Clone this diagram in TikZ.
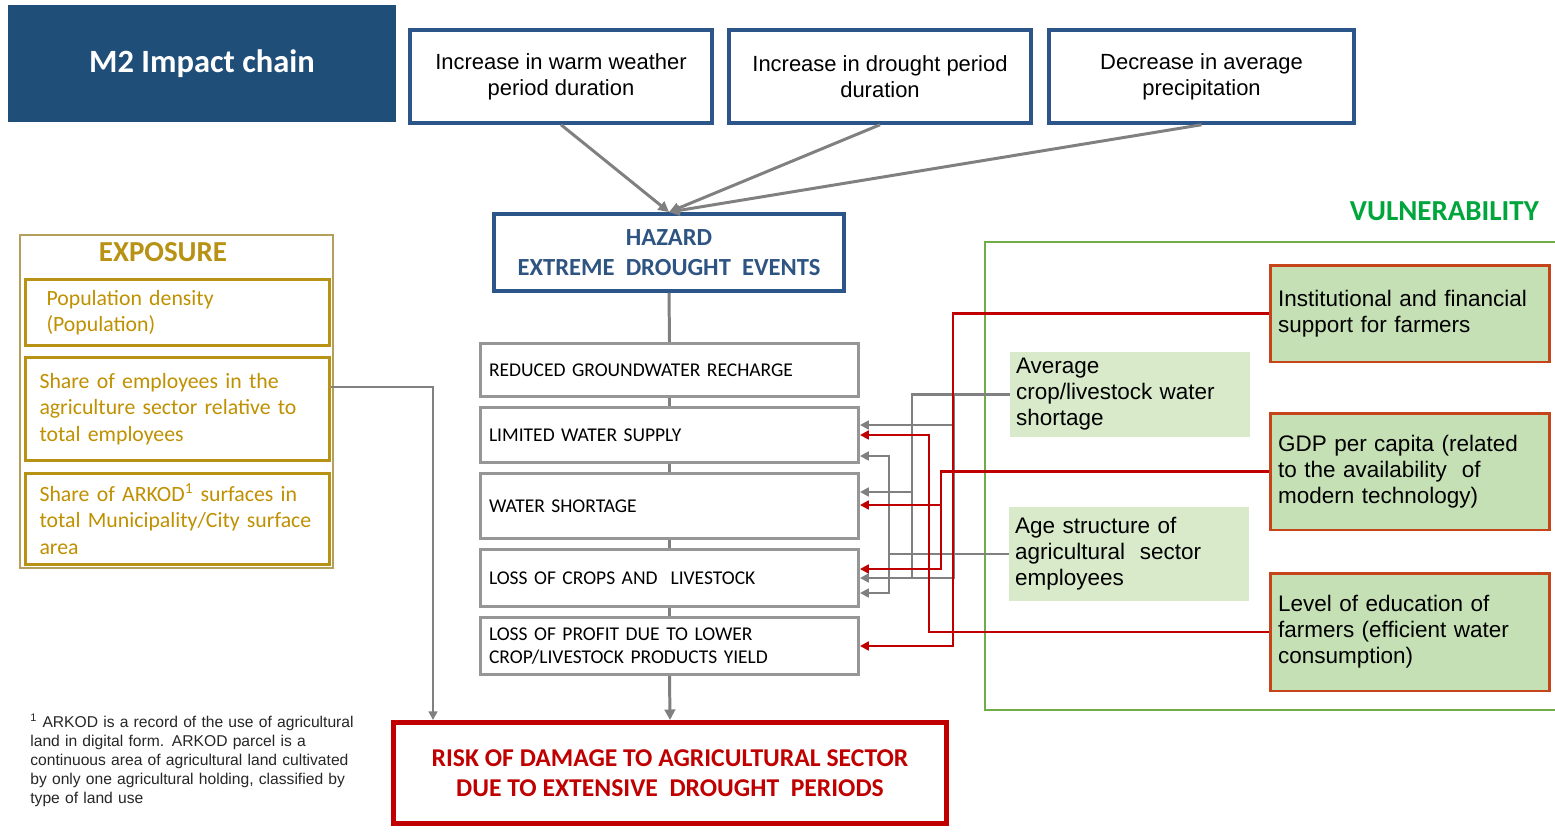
\documentclass[tikz,border=0pt]{standalone}
\usepackage{fontspec}
\setmainfont{Liberation Sans}
\newfontfamily\calibri{Carlito}
\usetikzlibrary{arrows.meta}

\definecolor{titleblue}{RGB}{31,78,121}
\definecolor{boxblue}{RGB}{44,86,138}
\definecolor{hazblue}{RGB}{46,84,130}
\definecolor{linegray}{RGB}{128,128,128}
\definecolor{boxgray}{RGB}{150,150,150}
\definecolor{riskred}{RGB}{192,0,0}
\definecolor{linkred}{RGB}{192,0,0}
\definecolor{gold}{RGB}{184,146,20}
\definecolor{goldtext}{RGB}{191,144,0}
\definecolor{goldframe}{RGB}{180,160,90}
\definecolor{vulngreen}{RGB}{0,166,60}
\definecolor{framegreen}{RGB}{112,173,71}
\definecolor{palegreen}{RGB}{217,234,203}
\definecolor{midgreen}{RGB}{197,224,180}
\definecolor{brick}{RGB}{197,68,26}

\begin{document}
\begin{tikzpicture}[x=0.02cm, y=-0.02cm,
    topbox/.style={draw=boxblue, line width=2pt, minimum width=6.04cm, minimum height=1.86cm,
        align=center, font=\fontsize{12.5}{14.8}\selectfont},
    stepbox/.style={draw=boxgray, line width=1.7pt, minimum width=7.56cm, text width=7.22cm,
        inner xsep=0.17cm, align=left, font=\calibri\fontsize{11.1}{13}\selectfont},
    expbox/.style={draw=gold, line width=1.7pt, minimum width=6.08cm, text width=5.52cm,
        inner xsep=0.28cm, align=left, text=goldtext, font=\calibri\fontsize{12.4}{15}\selectfont},
    factor/.style={fill=palegreen, minimum width=4.8cm, text width=4.56cm, inner xsep=0.12cm,
        align=left, font=\fontsize{12.8}{14.8}\selectfont},
    capbox/.style={draw=brick, fill=midgreen, line width=1.7pt, minimum width=5.6cm,
        text width=5.28cm, inner xsep=0.16cm, align=left, font=\fontsize{12.8}{14.8}\selectfont},
    grayln/.style={draw=linegray, line width=1.3pt},
    grayarr/.style={grayln, -{Triangle[length=5pt,width=5pt]}},
    redarr/.style={draw=linkred, line width=1.4pt, -{Triangle[length=5pt,width=5pt]}}
]
    \useasboundingbox (0,0) rectangle (1555,835);

    % Title
    \node[fill=titleblue, minimum width=7.76cm, minimum height=2.34cm, text=white,
        font=\calibri\bfseries\fontsize{18.5}{22}\selectfont] (title) at (202,63.5) {M2 Impact chain};

    % Climate signals
    \node[topbox] (warm) at (561,76.5) {Increase in warm weather\\period duration};
    \node[topbox] (drought) at (880,76.5) {Increase in drought period\\duration};
    \node[topbox, minimum width=6.1cm] (precip) at (1201.5,76.5) {Decrease in average\\precipitation};

    % Hazard
    \node[draw=boxblue, line width=2.2pt, minimum width=7cm, minimum height=1.54cm, align=center,
        text=hazblue, font=\calibri\bfseries\fontsize{14}{17}\selectfont] (hazard) at (669,252.5)
        {HAZARD\\EXTREME~ DROUGHT~ EVENTS};

    % Exposure
    \draw[goldframe, line width=0.8pt] (20,235) rectangle (333,568);
    \node[text=gold, font=\calibri\bfseries\fontsize{16.5}{18}\selectfont] (exptitle) at (163,252) {EXPOSURE};
    \node[expbox, minimum height=1.32cm, text width=5.24cm, inner xsep=0.42cm] (pop) at (177.5,312.5)
        {Population density\\(Population)};
    \node[expbox, minimum height=2.06cm] (emp) at (177.5,409)
        {Share of employees in the\\agriculture sector relative to\\total employees};
    \node[expbox, minimum height=1.82cm] (arkod) at (177.5,519)
        {Share of ARKOD\textsuperscript{1} surfaces in\\total Municipality/City surface\\area};

    % Impact steps
    \node[stepbox, minimum height=1.06cm] (recharge) at (669.5,370) {REDUCED GROUNDWATER RECHARGE};
    \node[stepbox, minimum height=1.1cm] (supply) at (669.5,435) {LIMITED WATER SUPPLY};
    \node[stepbox, minimum height=1.3cm] (shortage) at (669.5,506) {WATER SHORTAGE};
    \node[stepbox, minimum height=1.14cm] (crops) at (669.5,578) {LOSS OF CROPS AND~ LIVESTOCK};
    \node[stepbox, minimum height=1.14cm] (profit) at (669.5,646)
        {LOSS OF PROFIT DUE TO LOWER\\CROP/LIVESTOCK PRODUCTS YIELD};

    % Risk
    \node[draw=riskred, line width=2.8pt, minimum width=11.06cm, minimum height=2.02cm, align=center,
        text=riskred, font=\calibri\bfseries\fontsize{14.6}{17}\selectfont] (risk) at (670,773)
        {RISK OF DAMAGE TO AGRICULTURAL SECTOR\\DUE TO EXTENSIVE~ DROUGHT~ PERIODS};

    % Footnote
    \node[anchor=west, inner sep=0pt, text width=7.2cm, align=left, text=black!85,
        font=\fontsize{8.9}{10.7}\selectfont] (note) at (30,760)
        {\textsuperscript{1} ARKOD is a record of the use of agricultural\\
         land in digital form. ARKOD parcel is a\\
         continuous area of agricultural land cultivated\\
         by only one agricultural holding, classified by\\
         type of land use};

    % Vulnerability
    \draw[framegreen, line width=0.6pt] (1560,242) -- (985,242) -- (985,710) -- (1560,710);
    \node[anchor=east, text=vulngreen, font=\calibri\bfseries\fontsize{16.5}{18}\selectfont] (vulntitle)
        at (1545,211) {VULNERABILITY};
    \node[factor, minimum height=1.7cm] (avg) at (1130,394.5) {Average\\crop/livestock water\\shortage};
    \node[factor, minimum height=1.88cm] (age) at (1129,554) {Age structure of\\agricultural~ sector\\employees};
    \node[capbox, minimum height=1.94cm] (inst) at (1410,313.5) {Institutional and financial\\support for farmers};
    \node[capbox, minimum height=2.34cm] (gdp) at (1410,471.5)
        {GDP per capita (related\\to the availability~ of\\modern technology)};
    \node[capbox, minimum height=2.36cm] (edu) at (1410,632)
        {Level of education of\\farmers (efficient water\\consumption)};

    % Signals to hazard
    \draw[grayln, line width=1.7pt, -{Triangle[length=6pt,width=6pt]}] (warm.south) -- (hazard.north);
    \draw[grayln, line width=1.7pt, -{Triangle[length=6pt,width=6pt]}] (drought.south) -- (hazard.north);
    \draw[grayln, line width=1.7pt, -{Triangle[length=6pt,width=6pt]}] (precip.south) -- (hazard.north);

    % Chain down the middle
    \draw[grayln, line width=1.7pt] (hazard.south) -- (recharge.north);
    \draw[grayln] (recharge.south) -- (supply.north);
    \draw[grayln] (supply.south) -- (shortage.north);
    \draw[grayln] (shortage.south) -- (crops.north);
    \draw[grayln] (crops.south) -- (profit.north);
    \draw[grayln, line width=1.7pt, -{Triangle[length=6pt,width=6pt]}] (profit.south) -- (risk.north);

    % Exposure link
    \coordinate (ge) at (433,387);
    \draw[grayarr] (emp.east |- ge) -- (ge) -- (ge |- risk.north);

    % Sensitivity links (gray)
    \coordinate (ga1) at (912,578);
    \coordinate (ga2) at (954,394.5);
    \coordinate (ga3) at (954,425);
    \coordinate (ga4) at (912,492);
    \draw[grayln] (avg.west) -| (ga1);
    \draw[grayarr] (ga2) |- (crops.east);
    \draw[grayarr] (ga3) -- (ga3 -| supply.east);
    \draw[grayarr] (ga4) -- (ga4 -| shortage.east);
    \coordinate (gb1) at (889,456);
    \coordinate (gb2) at (889,593);
    \draw[grayarr] (age.west) -| (gb1) -- (gb1 -| supply.east);
    \draw[grayarr] (age.west -| gb2) -- (gb2) -- (gb2 -| crops.east);

    % Adaptive capacity links (red)
    \coordinate (ri) at (953,500);
    \coordinate (rg1) at (941,569);
    \coordinate (rg2) at (941,505);
    \coordinate (re) at (929,435);
    \draw[redarr] (inst.west) -| (ri) |- (profit.east);
    \draw[redarr] (gdp.west) -| (rg1) -- (rg1 -| crops.east);
    \draw[redarr] (rg2) -- (rg2 -| shortage.east);
    \draw[redarr] (edu.west) -| (re) -- (re -| supply.east);
\end{tikzpicture}
\end{document}
